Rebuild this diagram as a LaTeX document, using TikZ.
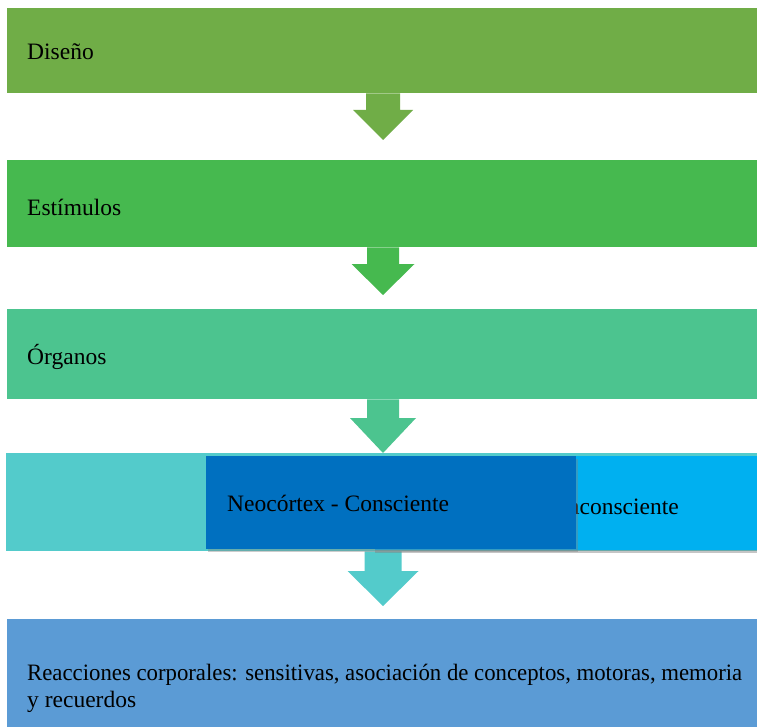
\documentclass[tikz,border=0pt]{standalone}
\usepackage{fontspec}
\setmainfont{Liberation Serif}
\usetikzlibrary{shadows,calc}
\definecolor{cOne}{HTML}{70AD47}
\definecolor{cTwo}{HTML}{46B94F}
\definecolor{cThree}{HTML}{4CC48F}
\definecolor{cFour}{HTML}{53CBCB}
\definecolor{cDark}{HTML}{0070C0}
\definecolor{cLight}{HTML}{00B0F0}
\definecolor{cFive}{HTML}{5B9BD5}
\tikzset{
  stagebox/.style={anchor=north west, inner sep=0pt, minimum width=753pt},
  label/.style={anchor=base west, inner sep=0pt, font=\fontsize{23.5}{27}\selectfont, text=black},
}
% #1 colour, #2 upper node, #3 tip y, #4 head start y, #5 shaft half width, #6 head half width
\newcommand\blockarr[6]{%
  \fill[#1] let \p1=(#2.south) in (383-#5,\y1) -- (383+#5,\y1) -- (383+#5,#4)
    -- (383+#6,#4) -- (383,#3) -- (383-#6,#4) -- (383-#5,#4) -- cycle;}
\begin{document}
\begin{tikzpicture}[x=1pt,y=-1pt]
\useasboundingbox (0,0) rectangle (757,727);
\clip (0,0) rectangle (757,727);
\fill[white] (0,0) rectangle (757,727);
\node[stagebox, fill=cOne, minimum height=85pt] (b1) at (7,8) {};
\node[stagebox, fill=cTwo, minimum height=87pt] (b2) at (7,160) {};
\node[stagebox, fill=cThree, minimum height=90pt] (b3) at (7,309) {};
\node[stagebox, fill=cFour, minimum height=98pt] (b4) at (6,453) {};
\node[stagebox, fill=cFive, minimum height=132pt] (b5) at (7,619) {};
\node[label] (t1) at (27,60) {Diseño};
\node[label] (t2) at (27,216) {Estímulos};
\node[label] (t3) at (27,364) {Órganos};
\node[label] (t5a) at (27,680) {\resizebox{715pt}{\height}{Reacciones corporales: sensitivas, asociación de conceptos, motoras, memoria}};
\node[label] (t5b) at (27,707) {y recuerdos};
\blockarr{cOne}{b1}{140}{110}{17}{30}
\blockarr{cTwo}{b2}{295}{264}{16}{31.5}
\blockarr{cThree}{b3}{453}{418}{16}{33}
\blockarr{cFour}{b4}{606}{571}{18.5}{35.5}
\node[stagebox, fill=cLight, minimum width=385pt, minimum height=94pt, drop shadow={shadow xshift=0pt, shadow yshift=-2.5pt, opacity=0.45}] (ri) at (375,456) {};
\node[label, anchor=base east] (rt) at (679,514) {Inconsciente};
\node[stagebox, fill=cDark, minimum width=370pt, minimum height=93pt, drop shadow={shadow xshift=1.5pt, shadow yshift=-3pt, opacity=0.4}] (ne) at (206,456) {};
\node[label] (nt) at (227,511) {Neocórtex - Consciente};
\end{tikzpicture}
\end{document}
